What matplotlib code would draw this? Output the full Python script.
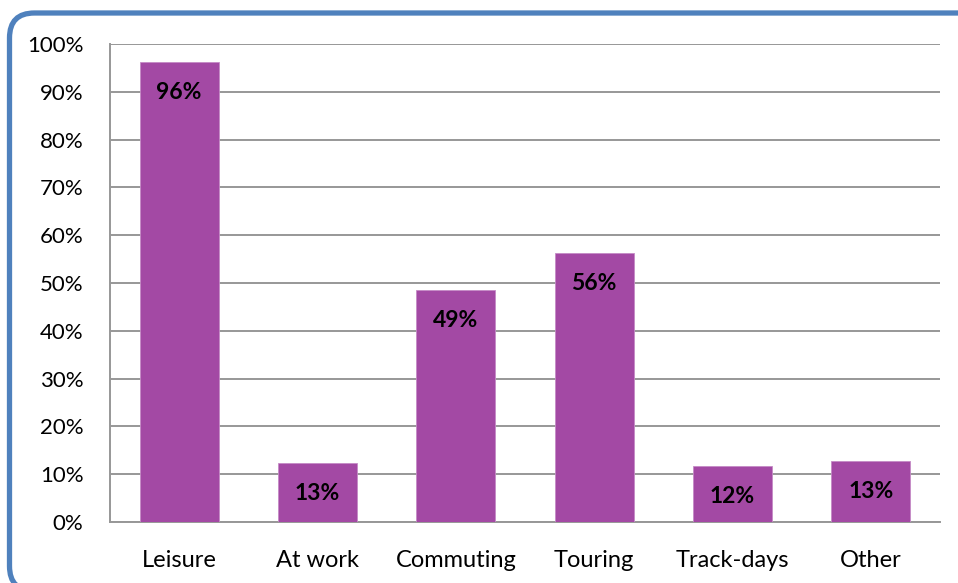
import matplotlib.pyplot as plt
from matplotlib.patches import FancyBboxPatch

categories = ['Leisure', 'At work', 'Commuting', 'Touring', 'Track-days', 'Other']
values = [96.2, 12.4, 48.6, 56.3, 11.8, 12.7]
labels = ['96%', '13%', '49%', '56%', '12%', '13%']

plt.rcParams['font.family'] = ['Lato', 'DejaVu Sans']

W, H = 958, 583
fig = plt.figure(figsize=(W / 100, H / 100), dpi=100)
ax = fig.add_axes([110 / W, 61 / H, 830 / W, 478 / H])

x = range(len(categories))
bars = ax.bar(x, values, width=0.57, color='#A349A4', edgecolor='#C58BC6', linewidth=0.6, zorder=3)

# value labels sit a fixed distance below each bar top
for b, lab in zip(bars, labels):
    ax.annotate(lab, (b.get_x() + b.get_width() / 2, b.get_height()),
                xytext=(0, -22), textcoords='offset points',
                ha='center', va='center', fontsize=16.5, fontweight='bold', color='black', zorder=4)

ax.set_xlim(-0.5, len(categories) - 0.5)
ax.set_ylim(0, 100)
ax.set_yticks(range(0, 101, 10))
ax.set_yticklabels([f'{v}%' for v in range(0, 101, 10)], fontsize=16)
ax.set_xticks(list(x))
ax.set_xticklabels(categories, fontsize=17)
ax.tick_params(axis='y', length=0, pad=19)
ax.tick_params(axis='x', length=0, pad=20)
ax.yaxis.grid(True, color='#979797', linewidth=1.4, zorder=0)
ax.set_axisbelow(True)
for s in ['top', 'right']:
    ax.spines[s].set_visible(False)
for s in ['left', 'bottom']:
    ax.spines[s].set_color('#979797')
    ax.spines[s].set_linewidth(1.4)

# rounded frame, running off the right and bottom edges like the original
border = FancyBboxPatch((9.5 / W, -8 / H), 975 / W, 578 / H,
                        boxstyle='round,pad=0,rounding_size=0.026',
                        transform=fig.transFigure, fill=False, clip_on=False,
                        edgecolor='#4F81BD', linewidth=3.8, mutation_aspect=W / H)
fig.patches.append(border)

fig.savefig('out.png', dpi=100)
